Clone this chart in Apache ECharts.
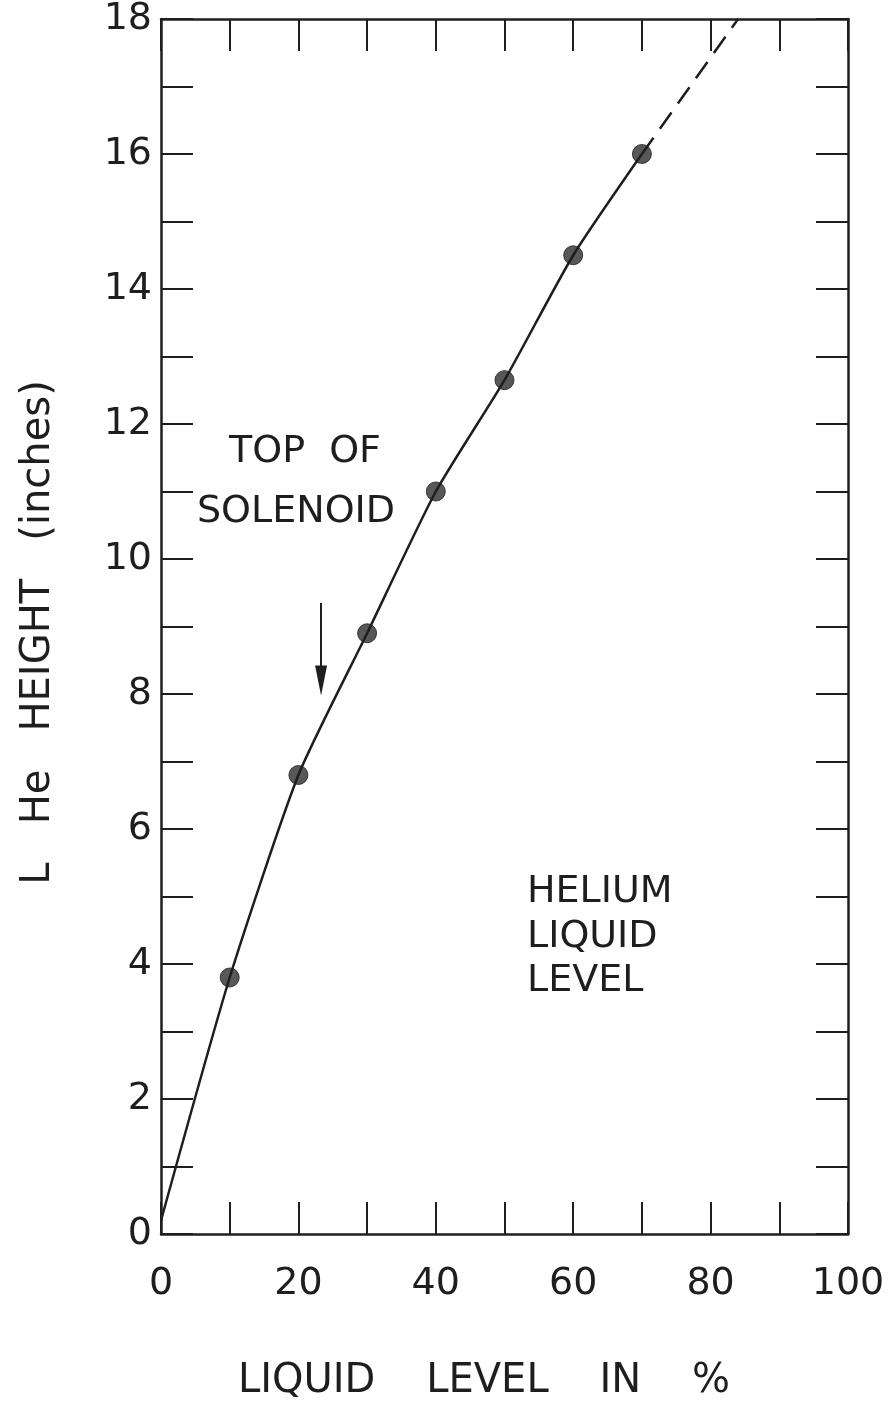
<!DOCTYPE html>
<html>
<head>
<meta charset="utf-8">
<script src="https://cdn.jsdelivr.net/npm/echarts@6/dist/echarts.min.js"></script>
<style>
  html, body { margin: 0; padding: 0; background: #fff; }
  #chart { width: 891px; height: 1407px; }
</style>
</head>
<body>
<div id="chart"></div>
<script>
// Liquid level reading (%) vs. liquid helium height (inches)
const levelPct = [10, 20, 30, 40, 50, 60, 70];
const heightIn = [3.8, 6.8, 8.9, 11.0, 12.65, 14.5, 16.0];

// Fitted curve: starts near the origin and runs through the measured points
const curveLevel = [0, 10, 20, 30, 40, 50, 60, 70];
const curveHeight = [0.2, 3.8, 6.8, 8.9, 11.0, 12.65, 14.5, 16.0];

// Extrapolated (dashed) continuation to the top of the frame
const extLevel = [70, 84];
const extHeight = [16.0, 18.0];

// "Top of solenoid" marker arrow
const arrowLevel = 23.3;
const arrowFrom = 9.35;
const arrowTo = 8.2;

const xTicks = [0, 20, 40, 60, 80, 100];
const yTicks = [0, 2, 4, 6, 8, 10, 12, 14, 16, 18];

const INK = '#1e1e1e';
const FONT = 'DejaVu Sans';

const zip = (a, b) => a.map((v, i) => [v, b[i]]);

const tickStyle = { show: true, inside: true, length: 32, lineStyle: { color: INK, width: 2 } };
const lineStyle = { show: true, onZero: false, lineStyle: { color: INK, width: 2.5 } };

const chart = echarts.init(document.getElementById('chart'), null, { renderer: 'canvas' });

chart.setOption({
  backgroundColor: '#fff',
  animation: false,
  grid: { left: 161, right: 43, top: 18, bottom: 173, containLabel: false },
  xAxis: [
    {
      type: 'value', min: 0, max: 100, interval: 10, position: 'bottom',
      axisLine: lineStyle, axisTick: tickStyle, splitLine: { show: false },
      axisLabel: {
        margin: 31, color: INK, fontFamily: FONT, fontSize: 38,
        formatter: v => (xTicks.includes(v) ? String(v) : '')
      }
    },
    {
      type: 'value', min: 0, max: 100, interval: 10, position: 'top',
      axisLine: lineStyle, axisTick: tickStyle, splitLine: { show: false },
      axisLabel: { show: false }
    }
  ],
  yAxis: [
    {
      type: 'value', min: 0, max: 18, interval: 1, position: 'left',
      axisLine: lineStyle, axisTick: tickStyle, splitLine: { show: false },
      axisLabel: {
        margin: 9, color: INK, fontFamily: FONT, fontSize: 38,
        formatter: v => (yTicks.includes(v) ? String(v) : '')
      },
      name: 'L   He   HEIGHT   (inches)',
      nameLocation: 'middle', nameGap: 102, nameRotate: 90,
      nameTextStyle: { color: INK, fontFamily: FONT, fontSize: 40, padding: [0, 12, 0, 0] }
    },
    {
      type: 'value', min: 0, max: 18, interval: 1, position: 'right',
      axisLine: lineStyle, axisTick: tickStyle, splitLine: { show: false },
      axisLabel: { show: false }
    }
  ],
  series: [
    {
      name: 'curve', type: 'line', data: zip(curveLevel, curveHeight),
      smooth: 0.2, showSymbol: false, silent: true,
      lineStyle: { color: INK, width: 2.5 },
      markLine: {
        silent: true, animation: false,
        symbol: ['none', 'triangle'], symbolSize: [12, 30],
        lineStyle: { color: INK, width: 2, type: 'solid' },
        label: { show: false },
        data: [[{ coord: [arrowLevel, arrowFrom] }, { coord: [arrowLevel, arrowTo] }]]
      }
    },
    {
      name: 'extrapolation', type: 'line', data: zip(extLevel, extHeight),
      showSymbol: false, silent: true,
      lineStyle: { color: INK, width: 2.5, type: [20, 11] }
    },
    {
      name: 'measured', type: 'scatter', data: zip(levelPct, heightIn),
      symbol: 'circle', symbolSize: 19,
      itemStyle: { color: '#2e2e2e', borderColor: INK, borderWidth: 1 }
    }
  ],
  graphic: [
    { type: 'text', x: 305, y: 452,
      style: { text: 'TOP  OF', font: `38px "${FONT}"`, fill: INK, textAlign: 'center', textVerticalAlign: 'middle' } },
    { type: 'text', x: 296, y: 512,
      style: { text: 'SOLENOID', font: `38px "${FONT}"`, fill: INK, textAlign: 'center', textVerticalAlign: 'middle' } },
    { type: 'text', x: 527, y: 892,
      style: { text: 'HELIUM', font: `38px "${FONT}"`, fill: INK, textAlign: 'left', textVerticalAlign: 'middle' } },
    { type: 'text', x: 527, y: 937,
      style: { text: 'LIQUID', font: `38px "${FONT}"`, fill: INK, textAlign: 'left', textVerticalAlign: 'middle' } },
    { type: 'text', x: 527, y: 981,
      style: { text: 'LEVEL', font: `38px "${FONT}"`, fill: INK, textAlign: 'left', textVerticalAlign: 'middle' } },
    { type: 'text', x: 484, y: 1382,
      style: { text: 'LIQUID    LEVEL    IN    %', font: `40px "${FONT}"`, fill: INK, textAlign: 'center', textVerticalAlign: 'middle' } }
  ]
});
</script>
</body>
</html>
